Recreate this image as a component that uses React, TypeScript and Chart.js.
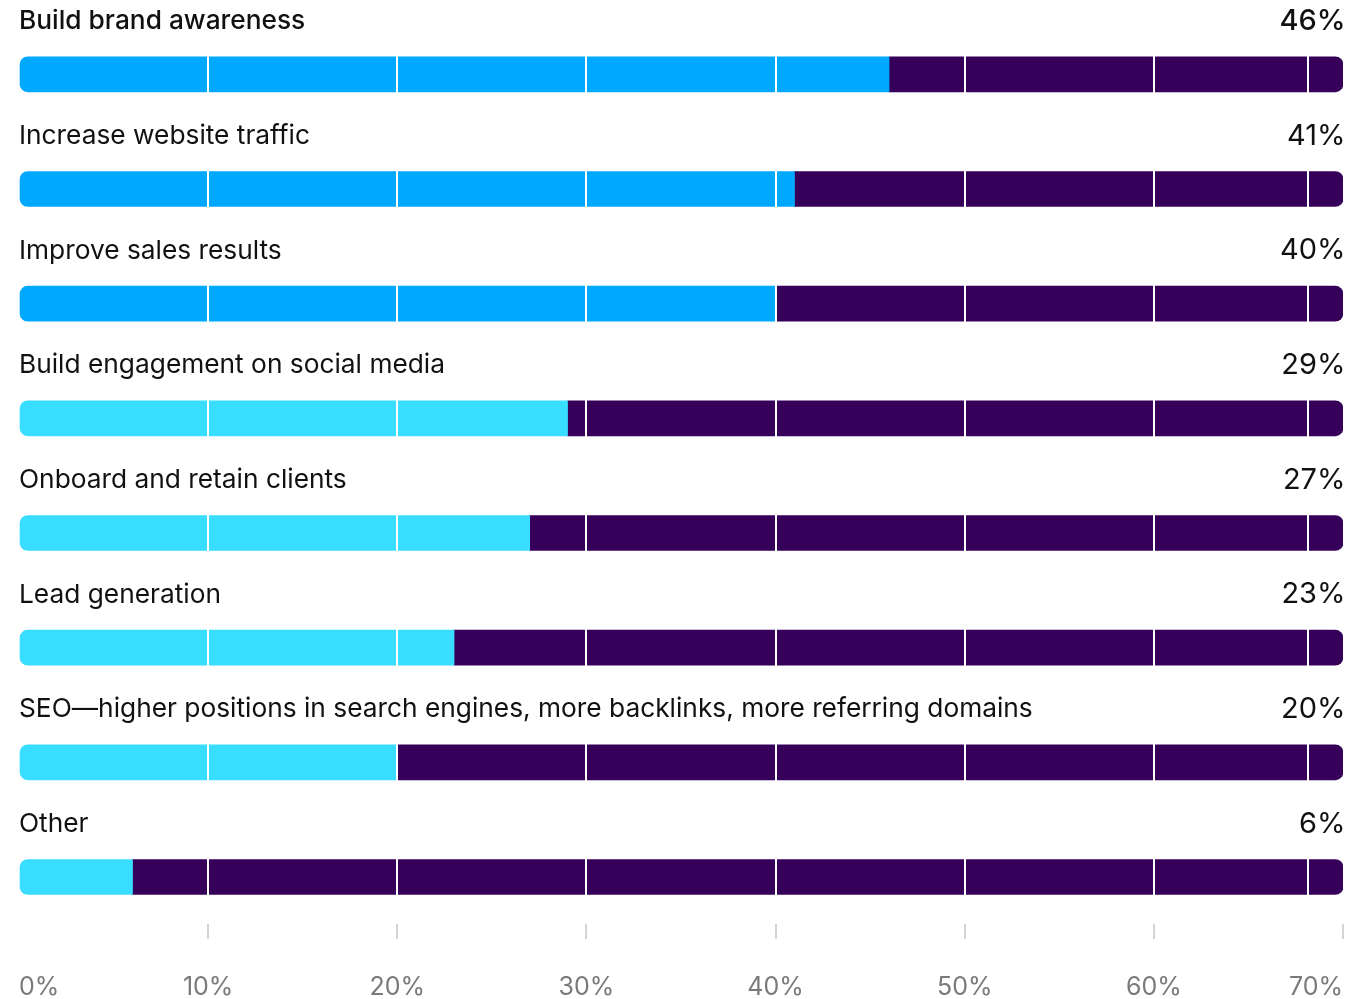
import React, { useEffect, useRef } from "react";
import { Chart, registerables } from "chart.js";

Chart.register(...registerables);

const categories: string[] = [
  "Build brand awareness",
  "Increase website traffic",
  "Improve sales results",
  "Build engagement on social media",
  "Onboard and retain clients",
  "Lead generation",
  "SEO\u2014higher positions in search engines, more backlinks, more referring domains",
  "Other",
];
const shares: number[] = [46, 41, 40, 29, 27, 23, 20, 6];
const valueLabels: string[] = ["46%", "41%", "40%", "29%", "27%", "23%", "20%", "6%"];
const axisMax = 70;
const tickValues: number[] = [0, 10, 20, 30, 40, 50, 60, 70];
const extraDividerValue = 68.15;

const BLUE = "#00A8FF";
const CYAN = "#38DDFF";
const PURPLE = "#36005A";

export default function App() {
  const ref = useRef<HTMLCanvasElement | null>(null);

  useEffect(() => {
    document.body.style.margin = "0";
    const canvas = ref.current;
    if (!canvas) return;

    const fillColors = shares.map((_, i) => (i < 3 ? BLUE : CYAN));

    const labelPlugin = {
      id: "rowLabels",
      afterDatasetsDraw(chart: any) {
        const ctx = chart.ctx;
        const xs = chart.scales.x;
        const ca = chart.chartArea;
        const px = xs.getPixelForValue(extraDividerValue);
        ctx.save();
        ctx.strokeStyle = "#ffffff";
        ctx.lineWidth = 2;
        ctx.beginPath();
        ctx.moveTo(px, ca.top);
        ctx.lineTo(px, ca.bottom);
        ctx.stroke();
        ctx.restore();
      },
      afterDraw(chart: any) {
        const ctx = chart.ctx;
        const xs = chart.scales.x;
        const ys = chart.scales.y;
        const left = xs.getPixelForValue(0);
        const right = xs.getPixelForValue(axisMax);
        ctx.save();
        ctx.fillStyle = "#111111";
        ctx.textBaseline = "middle";
        categories.forEach((c, i) => {
          const y = ys.getPixelForValue(i) - 53;
          ctx.font = `${i === 0 ? 500 : 400} 26.3px Inter, "Noto Sans", sans-serif`;
          ctx.textAlign = "left";
          ctx.fillText(c, left, y);
          ctx.font = `${i === 0 ? 500 : 400} 29px Inter, "Noto Sans", sans-serif`;
          ctx.textAlign = "right";
          ctx.fillText(valueLabels[i], right + 2.5, y);
        });
        ctx.restore();
      },
    };

    const chart = new Chart(canvas, {
      type: "bar",
      data: {
        datasets: [
          {
            label: "Share",
            data: shares.map((v, i) => ({ x: v, y: i })),
            backgroundColor: fillColors,
            borderWidth: 0,
            borderSkipped: false,
            borderRadius: { topLeft: 8, bottomLeft: 8, topRight: 0, bottomRight: 0 },
            barThickness: 35,
          },
          {
            label: "Rest",
            data: shares.map((v, i) => ({ x: axisMax - v, y: i })),
            backgroundColor: PURPLE,
            borderWidth: 0,
            borderSkipped: false,
            borderRadius: { topLeft: 0, bottomLeft: 0, topRight: 8, bottomRight: 8 },
            barThickness: 35,
          },
        ],
      },
      options: {
        indexAxis: "y",
        responsive: false,
        animation: false,
        layout: { padding: { left: 19, right: 29, top: 17, bottom: 0 } },
        plugins: { legend: { display: false }, tooltip: { enabled: false } },
        scales: {
          y: {
            type: "linear",
            min: -0.5,
            max: 7.41,
            reverse: true,
            offset: false,
            display: false,
            stacked: true,
          },
          x: {
            type: "linear",
            min: 0,
            max: axisMax,
            stacked: true,
            afterBuildTicks: (scale: any) => {
              scale.ticks = tickValues.map((v) => ({ value: v }));
            },
            afterFit: (scale: any) => {
              scale.height = 75;
              scale.paddingLeft = 0;
              scale.paddingRight = 0;
            },
            border: { display: false },
            grid: {
              z: 1,
              lineWidth: 2,
              color: (ctx: any) =>
                ctx.tick && (ctx.tick.value === 0 || ctx.tick.value === axisMax)
                  ? "rgba(0,0,0,0)"
                  : "#ffffff",
              tickColor: (ctx: any) =>
                ctx.tick && ctx.tick.value === 0 ? "rgba(0,0,0,0)" : "#d4d4d4",
              tickWidth: 2,
              tickLength: 15,
              drawTicks: true,
            },
            ticks: {
              align: "inner",
              color: "#7a7a7a",
              padding: 33,
              font: { family: "Inter, 'Noto Sans', sans-serif", size: 25 },
              callback: (v: any) => `${v}%`,
            },
          },
        },
      },
      plugins: [labelPlugin],
    } as any);

    return () => chart.destroy();
  }, []);

  return (
    <div style={{ width: 1372, height: 999, background: "#ffffff" }}>
      <canvas ref={ref} width={1372} height={999} style={{ display: "block" }} />
    </div>
  );
}
